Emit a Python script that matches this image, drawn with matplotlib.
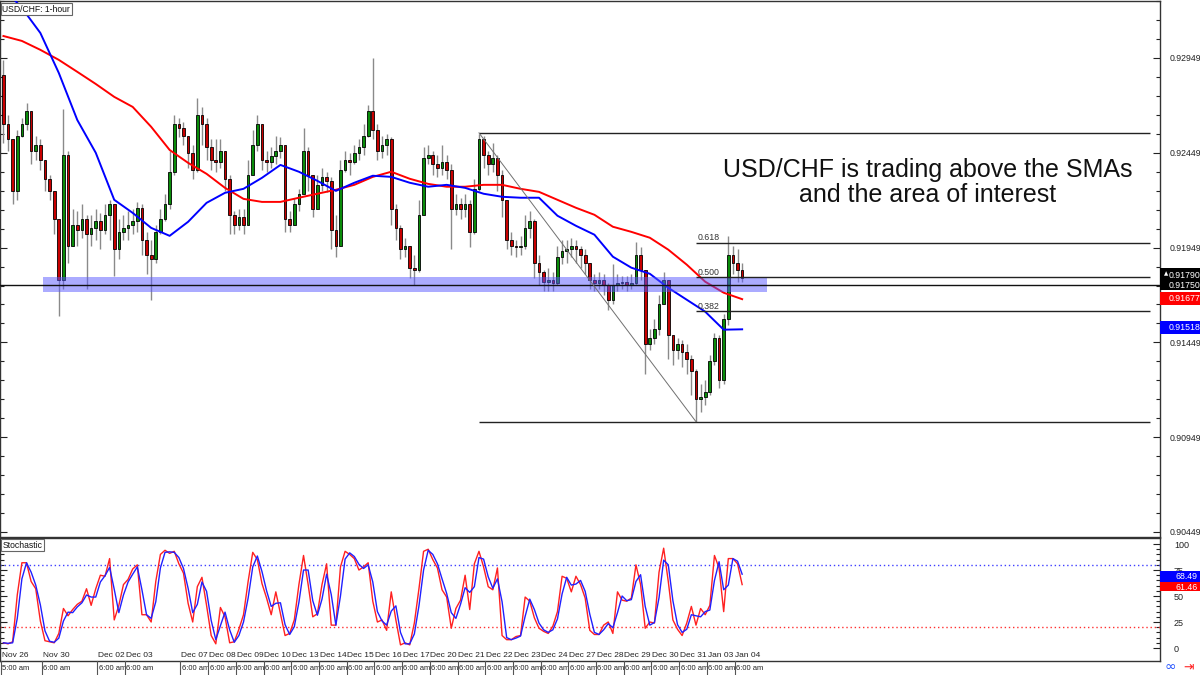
import numpy as np
import pandas as pd
import matplotlib
matplotlib.use('Agg')
import matplotlib.pyplot as plt
from matplotlib.patches import Rectangle
from matplotlib.ticker import FixedLocator
import matplotlib.transforms as mtransforms

# ---------------- data (4-hour resampled view of USD/CHF 1-hour) ----------------
open0 = 0.9286
close = [
    0.9260, 0.9252, 0.9225, 0.9254, 0.9260, 0.9267, 0.9246, 0.9249, 0.9241, 0.9231,
    0.9225, 0.9210, 0.9178, 0.9244, 0.9196, 0.9207, 0.9204, 0.9210, 0.9202, 0.9205,
    0.9209, 0.9204, 0.9212, 0.9218, 0.9194, 0.9203, 0.9205, 0.9207, 0.9209, 0.9216,
    0.9199, 0.9191, 0.9189, 0.9203, 0.9210, 0.9218, 0.9235, 0.9260, 0.9258, 0.9254,
    0.9245, 0.9236, 0.9265, 0.9260, 0.9248, 0.9241, 0.9240, 0.9246, 0.9231, 0.9212,
    0.9207, 0.9211, 0.9207, 0.9233, 0.9249, 0.9260, 0.9241, 0.9240, 0.9243, 0.9246,
    0.9249, 0.9210, 0.9207, 0.9218, 0.9223, 0.9246, 0.9233, 0.9215, 0.9228, 0.9232,
    0.9230, 0.9204, 0.9196, 0.9236, 0.9241, 0.9240, 0.9245, 0.9248, 0.9254, 0.9267,
    0.9257, 0.9246, 0.9249, 0.9252, 0.9215, 0.9205, 0.9194, 0.9196, 0.9184, 0.9183,
    0.9212, 0.9242, 0.9244, 0.9239, 0.9237, 0.9240, 0.9236, 0.9215, 0.9218, 0.9215,
    0.9218, 0.9203, 0.9226, 0.9252, 0.9244, 0.9239, 0.9242, 0.9233, 0.9220, 0.9199,
    0.9196, 0.9195, 0.9196, 0.9205, 0.9209, 0.9187, 0.9182, 0.9177, 0.9178, 0.9176,
    0.9190, 0.9193, 0.9194, 0.9196, 0.9194, 0.9191, 0.9187, 0.9178, 0.9176, 0.9178,
    0.9175, 0.9167, 0.9175, 0.9176, 0.9177, 0.9175, 0.9176, 0.9191, 0.9183, 0.9144,
    0.9147, 0.9152, 0.9165, 0.9178, 0.9149, 0.9141, 0.9144, 0.9140, 0.9136, 0.9130,
    0.9115, 0.9116, 0.9119, 0.9135, 0.9147, 0.9125, 0.9157, 0.9191, 0.9187, 0.9183,
    0.9179]
high = [
    0.9294, 0.9265, 0.9241, 0.9257, 0.9263, 0.9271, 0.9267, 0.9254, 0.9252, 0.9241,
    0.9233, 0.9225, 0.9191, 0.9268, 0.9246, 0.9215, 0.9214, 0.9218, 0.9212, 0.9212,
    0.9215, 0.9213, 0.9218, 0.9220, 0.9218, 0.9210, 0.9212, 0.9214, 0.9215, 0.9219,
    0.9218, 0.9203, 0.9199, 0.9207, 0.9215, 0.9223, 0.9246, 0.9265, 0.9263, 0.9261,
    0.9254, 0.9249, 0.9274, 0.9269, 0.9263, 0.9252, 0.9252, 0.9252, 0.9246, 0.9233,
    0.9214, 0.9215, 0.9215, 0.9241, 0.9257, 0.9265, 0.9260, 0.9246, 0.9248, 0.9254,
    0.9253, 0.9249, 0.9214, 0.9221, 0.9226, 0.9258, 0.9248, 0.9233, 0.9233, 0.9237,
    0.9235, 0.9232, 0.9212, 0.9241, 0.9246, 0.9245, 0.9249, 0.9252, 0.9260, 0.9270,
    0.9295, 0.9260, 0.9254, 0.9255, 0.9253, 0.9218, 0.9207, 0.9200, 0.9196, 0.9191,
    0.9220, 0.9248, 0.9249, 0.9246, 0.9244, 0.9249, 0.9244, 0.9239, 0.9223, 0.9221,
    0.9223, 0.9220, 0.9231, 0.9255, 0.9254, 0.9246, 0.9250, 0.9244, 0.9236, 0.9220,
    0.9203, 0.9199, 0.9201, 0.9212, 0.9214, 0.9210, 0.9191, 0.9183, 0.9184, 0.9182,
    0.9196, 0.9199, 0.9199, 0.9200, 0.9199, 0.9196, 0.9194, 0.9187, 0.9181, 0.9182,
    0.9181, 0.9176, 0.9186, 0.9181, 0.9180, 0.9180, 0.9181, 0.9198, 0.9195, 0.9183,
    0.9152, 0.9157, 0.9170, 0.9182, 0.9178, 0.9149, 0.9147, 0.9146, 0.9144, 0.9138,
    0.9131, 0.9123, 0.9125, 0.9138, 0.9150, 0.9149, 0.9160, 0.9201, 0.9196, 0.9194,
    0.9187]
low = [
    0.9250, 0.9246, 0.9218, 0.9220, 0.9253, 0.9257, 0.9239, 0.9241, 0.9236, 0.9225,
    0.9220, 0.9202, 0.9159, 0.9173, 0.9187, 0.9196, 0.9196, 0.9200, 0.9173, 0.9196,
    0.9199, 0.9194, 0.9202, 0.9199, 0.9180, 0.9189, 0.9199, 0.9199, 0.9202, 0.9203,
    0.9191, 0.9181, 0.9167, 0.9187, 0.9202, 0.9209, 0.9215, 0.9233, 0.9253, 0.9249,
    0.9237, 0.9231, 0.9235, 0.9249, 0.9241, 0.9236, 0.9235, 0.9237, 0.9225, 0.9202,
    0.9202, 0.9204, 0.9202, 0.9207, 0.9233, 0.9246, 0.9236, 0.9235, 0.9237, 0.9239,
    0.9242, 0.9203, 0.9203, 0.9207, 0.9214, 0.9223, 0.9225, 0.9211, 0.9215, 0.9225,
    0.9224, 0.9194, 0.9190, 0.9196, 0.9235, 0.9233, 0.9239, 0.9241, 0.9244, 0.9253,
    0.9252, 0.9241, 0.9242, 0.9244, 0.9207, 0.9199, 0.9189, 0.9190, 0.9179, 0.9175,
    0.9182, 0.9212, 0.9239, 0.9233, 0.9232, 0.9233, 0.9231, 0.9194, 0.9212, 0.9210,
    0.9211, 0.9195, 0.9202, 0.9225, 0.9237, 0.9233, 0.9235, 0.9225, 0.9211, 0.9194,
    0.9191, 0.9190, 0.9191, 0.9194, 0.9200, 0.9179, 0.9175, 0.9172, 0.9172, 0.9172,
    0.9175, 0.9186, 0.9187, 0.9190, 0.9187, 0.9184, 0.9181, 0.9173, 0.9172, 0.9173,
    0.9170, 0.9162, 0.9165, 0.9172, 0.9173, 0.9172, 0.9173, 0.9175, 0.9178, 0.9128,
    0.9141, 0.9144, 0.9149, 0.9165, 0.9136, 0.9133, 0.9136, 0.9132, 0.9128, 0.9117,
    0.9103, 0.9108, 0.9112, 0.9117, 0.9133, 0.9121, 0.9123, 0.9154, 0.9181, 0.9177,
    0.9177]

# moving averages, sampled every 4th candle
sma_slow = [
    0.93065, 0.93039, 0.92992, 0.92939, 0.92876, 0.92812, 0.92744, 0.92691, 0.92586, 0.92464,
    0.92396, 0.92338, 0.92264, 0.92206, 0.92190, 0.92190, 0.92212, 0.92233, 0.92254, 0.92280,
    0.92322, 0.92349, 0.92312, 0.92285, 0.92270, 0.92270, 0.92280, 0.92280, 0.92259, 0.92243,
    0.92201, 0.92159, 0.92122, 0.92059, 0.92032, 0.92001, 0.91938, 0.91859, 0.91769, 0.91711,
    0.91677]
sma_fast = [
    0.93318, 0.93213, 0.93081, 0.92870, 0.92622, 0.92449, 0.92201, 0.92132, 0.92053, 0.92011,
    0.92085, 0.92185, 0.92238, 0.92259, 0.92317, 0.92385, 0.92349, 0.92301, 0.92248, 0.92291,
    0.92328, 0.92322, 0.92291, 0.92270, 0.92280, 0.92264, 0.92233, 0.92217, 0.92212, 0.92212,
    0.92117, 0.92064, 0.92017, 0.91901, 0.91843, 0.91811, 0.91737, 0.91674, 0.91611, 0.91516,
    0.91518]

stoch_k = [
    5, 4, 6, 51, 82, 82, 64, 57, 26, 7,
    6, 5, 14, 38, 31, 37, 42, 45, 57, 41,
    57, 70, 69, 86, 27, 41, 61, 66, 76, 80,
    32, 32, 25, 64, 90, 94, 91, 93, 81, 72,
    43, 25, 59, 68, 41, 12, 4, 39, 30, 5,
    6, 18, 32, 64, 92, 85, 62, 48, 32, 54,
    33, 12, 14, 27, 61, 89, 61, 30, 33, 61,
    81, 22, 22, 78, 93, 90, 86, 75, 78, 82,
    45, 25, 27, 17, 54, 27, 3, 5, 3, 24,
    57, 93, 95, 85, 77, 56, 49, 19, 38, 46,
    70, 37, 81, 93, 78, 59, 56, 77, 12, 8,
    8, 11, 12, 49, 45, 29, 19, 16, 14, 21,
    35, 69, 67, 54, 69, 61, 48, 17, 13, 13,
    22, 25, 14, 54, 46, 45, 48, 80, 61, 19,
    25, 24, 73, 96, 64, 27, 18, 12, 24, 40,
    22, 38, 32, 41, 89, 77, 35, 86, 86, 81,
    61]

day_labels = ['Nov 26', 'Nov 30', 'Dec 02', 'Dec 03', 'Dec 07', 'Dec 08', 'Dec 09',
              'Dec 10', 'Dec 13', 'Dec 14', 'Dec 15', 'Dec 16', 'Dec 17', 'Dec 20',
              'Dec 21', 'Dec 22', 'Dec 23', 'Dec 24', 'Dec 27', 'Dec 28', 'Dec 29',
              'Dec 30', 'Dec 31', 'Jan 03', 'Jan 04']
day_session = [0, 2, 4, 5, 7, 8, 9, 10, 11, 12, 13, 14, 15, 16, 17, 18, 19, 20,
               21, 22, 23, 24, 25, 26, 27]
time_labels = ['5:00 am'] + ['6:00 am'] * 24

price_ticks = [0.90449, 0.90949, 0.91449, 0.91949, 0.92449, 0.92949]
area_low, area_high = 0.91716, 0.91795
hline_price = 0.91750
fib_high, fib_low = 0.92554, 0.91031
fib_levels = [0.382, 0.500, 0.618]
last_labels = {'close': '0.91790', 'line': '0.91750', 'slow': '0.91677',
               'fast': '0.91518', 'stoch_d': '68.49', 'stoch_k': '61.46'}

# ---------------- figure ----------------
UI = 'Liberation Sans'
W, H = 1200, 675
fig = plt.figure(figsize=(12, 6.75), dpi=100)
fig.patch.set_facecolor('white')


def fy(py):
    return 1 - py / H


AXR = 1160
ax = fig.add_axes([0, fy(537), AXR / W, (537 - 1) / H])
ax2 = fig.add_axes([0, fy(661), AXR / W, (661 - 538) / H])

XMIN, XMAX = -0.74, 250.5
for a in (ax, ax2):
    a.set_xlim(XMIN, XMAX)
    a.set_facecolor('white')
    for s in a.spines.values():
        s.set_color('#333333')
        s.set_linewidth(1.0)
    a.set_xticks([])

ax.set_ylim(0.904226, 0.932496)
ax2.set_ylim(-12.5, 105.8)

# candles
c = np.array(close)
n = len(c)
idx = np.arange(n)
o = np.r_[open0, c[:-1]]
hi = np.maximum(np.array(high), np.maximum(o, c))
lo = np.minimum(np.array(low), np.minimum(o, c))
up = c >= o
ax.vlines(idx, lo, hi, color='#8a8a8a', lw=1.0, zorder=2)
bb = np.minimum(o, c)
bh = np.maximum(np.abs(c - o), 0.00003)
ax.bar(idx, bh, bottom=bb, width=0.58, color=np.where(up, '#0a8c0a', '#c80000'),
       edgecolor='black', linewidth=0.6, zorder=3)

# SMAs
sidx = np.arange(0, n, 4)
ax.plot(sidx, sma_slow, color='#ff0000', lw=1.4, zorder=4)
ax.plot(sidx, sma_fast, color='#0000ff', lw=1.4, zorder=4)

# area of interest
ax.add_patch(Rectangle((8.58, area_low), 165.4 - 8.58, area_high - area_low,
                       facecolor=(0.35, 0.35, 1.0), alpha=0.5, edgecolor='none', zorder=5))
ax.axhline(hline_price, color='#111111', lw=1.0, zorder=6)

# Fibonacci
fib_i0, fib_i1, fib_end = 103, 150, 248.3
ax.hlines([fib_high, fib_low], fib_i0, fib_end, color='#222222', lw=1.0, zorder=6)
ax.plot([fib_i0, fib_i1], [fib_high, fib_low], color='#707070', lw=0.7, zorder=6)
for lv in fib_levels:
    p = fib_low + lv * (fib_high - fib_low)
    ax.hlines(p, fib_i1, fib_end, color='#222222', lw=1.0, zorder=6)
    ax.text(fib_i1 + 0.3, p + 0.00004, f'{lv:.3f}', fontsize=6.3, color='#333333',
            family=UI, ha='left', va='bottom', zorder=7)

# price axis
ax.yaxis.tick_right()
ax.yaxis.set_major_locator(FixedLocator(price_ticks))
ax.yaxis.set_minor_locator(FixedLocator([0.90449 + 0.001 * k for k in range(29)]))
ax.set_yticklabels([f'{t:.5f}' for t in price_ticks], family=UI)
ax.tick_params(axis='y', which='major', direction='in', length=5, width=0.8,
               labelsize=6.3, pad=7, right=True, left=True, colors='#222222')
ax.tick_params(axis='y', which='minor', direction='in', length=3, width=0.8,
               right=True, left=True, colors='#222222')

# stochastic
k = pd.Series(stoch_k, dtype=float)
d = k.rolling(2, min_periods=1).mean()
ax2.plot(idx, k, color='#ff2020', lw=1.0, zorder=3)
ax2.plot(idx, d, color='#2020ff', lw=1.0, zorder=4)
ax2.axhline(80, color='#4040ff', lw=1.0, ls=(0, (1, 2)), zorder=2)
ax2.axhline(20, color='#ff3030', lw=1.0, ls=(0, (1, 2)), zorder=2)
ax2.yaxis.tick_right()
ax2.set_yticks([0, 25, 50, 75, 100])
ax2.set_yticklabels(['0', '25', '50', '75', '100'], family=UI)
ax2.yaxis.set_minor_locator(FixedLocator(list(range(0, 101, 5))))
ax2.tick_params(axis='y', which='major', direction='in', length=5, width=0.8,
                labelsize=6.5, pad=10, right=True, left=True, colors='#222222')
ax2.tick_params(axis='y', which='minor', direction='in', length=3, width=0.8,
                right=True, left=True, colors='#222222')

# date labels
tr_in = mtransforms.blended_transform_factory(ax2.transData, ax2.transAxes)
tr_fig = mtransforms.blended_transform_factory(ax2.transData, fig.transFigure)
for j, (lab, sess, tl) in enumerate(zip(day_labels, day_session, time_labels)):
    x = max(6 * sess - 3.5, XMIN + 0.35)
    ax2.text(x, 0.045, lab, transform=tr_in, fontsize=6.0, ha='left', va='center',
             color='#222222', family=UI, zorder=6)
    fig.text(x + 0.15, fy(669), tl, transform=tr_fig, fontsize=5.5, ha='left',
             va='center', color='#222222', family=UI, zorder=20 + j)
    fig.lines.append(plt.Line2D([x - 0.15, x - 0.15], [fy(661), fy(675)],
                                transform=tr_fig, color='#555555', lw=0.8,
                                zorder=20 + j + 0.5))

# title boxes
fig.text(0.002, fy(9), 'USD/CHF: 1-hour', fontsize=6.2, ha='left', va='center',
         color='#111111', family=UI,
         bbox=dict(boxstyle='square,pad=0.22', fc='white', ec='#666666', lw=0.8), zorder=10)
fig.text(0.002, fy(545), 'Stochastic', fontsize=6.2, ha='left', va='center',
         color='#111111', family=UI,
         bbox=dict(boxstyle='square,pad=0.22', fc='white', ec='#666666', lw=0.8), zorder=10)

# annotation
fig.text(928 / W, fy(170), 'USD/CHF is trading above the SMAs', fontsize=18,
         family=UI, ha='center', va='center', color='#111111')
fig.text(928 / W, fy(195), 'and the area of interest', fontsize=18,
         family=UI, ha='center', va='center', color='#111111')


# right-side value boxes
def fig_box(y0, y1, color):
    fig.patches.append(Rectangle((AXR / W, fy(y1)), (W - AXR) / W, (y1 - y0) / H,
                                 transform=fig.transFigure, facecolor=color,
                                 edgecolor='none', zorder=5))


def fig_val(xp, yp, s, fs=6.3):
    fig.text(xp / W, fy(yp), s, fontsize=fs, color='white', ha='left', va='center',
             family=UI, zorder=12)


fig_box(268, 290, 'black')
fig.text(1164 / W, fy(274), '\u25b2', fontsize=4, color='white', ha='left',
         va='center', zorder=12)
fig_val(1169, 275, last_labels['close'])
fig_val(1169, 285, last_labels['line'])
fig_box(292, 305, '#ff0000')
fig_val(1169, 298.5, last_labels['slow'])
fig_box(321, 334, '#0000ff')
fig_val(1169, 327.5, last_labels['fast'])
fig_box(571, 582, '#0000ff')
fig_val(1175, 576.5, last_labels['stoch_d'])
fig_box(582, 591, '#ff0000')
fig_val(1175, 587, last_labels['stoch_k'])

# bottom-right icons
fig.text(1170 / W, fy(667), '\u221e', fontsize=10, color='#2050ff', ha='center',
         va='center')
fig.text(1189 / W, fy(667), '\u21e5', fontsize=9, color='#ff2020', ha='center',
         va='center')

fig.savefig('out.png', dpi=100, facecolor='white')
